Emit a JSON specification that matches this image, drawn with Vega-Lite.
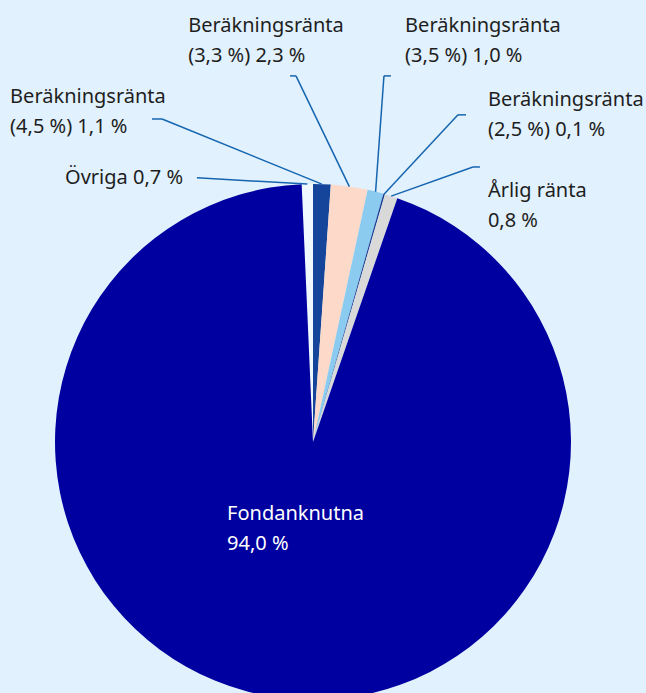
{
  "$schema": "https://vega.github.io/schema/vega-lite/v6.json",
  "autosize": {"type": "none"},
  "width": 516,
  "height": 500,
  "padding": {"left": 55, "right": 75, "top": 192, "bottom": 1},
  "background": "#e1f1fd",
  "config": {"view": {"stroke": null}, "text": {"font": "Noto Sans"}},
  "data": {
    "values": [
      {"ordning": 0, "kategori": "Övriga", "rad1": "Övriga 0,7 %", "rad2": "", "andel": 0.7},
      {"ordning": 1, "kategori": "Beräkningsränta (4,5 %)", "rad1": "Beräkningsränta", "rad2": "(4,5 %) 1,1 %", "andel": 1.1},
      {"ordning": 2, "kategori": "Beräkningsränta (3,3 %)", "rad1": "Beräkningsränta", "rad2": "(3,3 %) 2,3 %", "andel": 2.3},
      {"ordning": 3, "kategori": "Beräkningsränta (3,5 %)", "rad1": "Beräkningsränta", "rad2": "(3,5 %) 1,0 %", "andel": 1.0},
      {"ordning": 4, "kategori": "Beräkningsränta (2,5 %)", "rad1": "Beräkningsränta", "rad2": "(2,5 %) 0,1 %", "andel": 0.1},
      {"ordning": 5, "kategori": "Årlig ränta", "rad1": "Årlig ränta", "rad2": "0,8 %", "andel": 0.8},
      {"ordning": 6, "kategori": "Fondanknutna", "rad1": "Fondanknutna", "rad2": "94,0 %", "andel": 94.0}
    ]
  },
  "layer": [
    {
      "mark": {"type": "arc", "radius": 258},
      "encoding": {
        "theta": {"field": "andel", "type": "quantitative", "stack": true, "scale": {"range": [-0.043982, 6.239203]}},
        "order": {"field": "ordning", "type": "quantitative"},
        "color": {
          "field": "kategori", "type": "nominal", "legend": null,
          "scale": {
            "domain": ["Övriga", "Beräkningsränta (4,5 %)", "Beräkningsränta (3,3 %)", "Beräkningsränta (3,5 %)", "Beräkningsränta (2,5 %)", "Årlig ränta", "Fondanknutna"],
            "range": ["#f0f8ff", "#14459a", "#fcd9c8", "#8ccbf0", "#1c3f94", "#d9d9d9", "#0000a0"]
          }
        }
      }
    },
    {
      "transform": [
        {"window": [{"op": "sum", "field": "andel", "as": "kum"}], "sort": [{"field": "ordning"}]},
        {"calculate": "((datum.kum - datum.andel / 2) / 100) * 2 * PI - 0.043982", "as": "mitt"},
        {"calculate": "sin(datum.mitt)", "as": "sx"},
        {"calculate": "cos(datum.mitt)", "as": "sy"},
        {"calculate": "[-0.450, -0.585, -0.066, 0.275, 0.562, 0.620, 0][datum.ordning]", "as": "ex"},
        {"calculate": "[1.024, 1.252, 1.419, 1.419, 1.268, 1.066, 0][datum.ordning]", "as": "ey"},
        {"calculate": "[-0.450, -0.624, -0.089, 0.302, 0.593, 0.647, 0][datum.ordning]", "as": "tx"},
        {"calculate": "[-0.961, -1.174, -0.484, 0.357, 0.678, 0.678, -0.333][datum.ordning]", "as": "lx"},
        {"calculate": "[1.000, 1.314, 1.589, 1.589, 1.303, 0.950, -0.302][datum.ordning]", "as": "ly"},
        {"calculate": "datum.rad2 ? [datum.rad1, datum.rad2] : datum.rad1", "as": "etikett"}
      ],
      "encoding": {
        "x": {"field": "lx", "type": "quantitative", "axis": null, "scale": {"domain": [-1, 1], "nice": false, "zero": false}},
        "y": {"field": "ly", "type": "quantitative", "axis": null, "scale": {"domain": [-0.96899, 0.96899], "nice": false, "zero": false}}
      },
      "layer": [
        {
          "transform": [{"filter": "datum.ordning < 6"}],
          "mark": {"type": "rule", "color": "#1565b0", "strokeWidth": 1.5},
          "encoding": {
            "x": {"field": "sx", "type": "quantitative"},
            "y": {"field": "sy", "type": "quantitative"},
            "x2": {"field": "ex"},
            "y2": {"field": "ey"}
          }
        },
        {
          "transform": [{"filter": "datum.ordning < 6"}],
          "mark": {"type": "rule", "color": "#1565b0", "strokeWidth": 1.5},
          "encoding": {
            "x": {"field": "ex", "type": "quantitative"},
            "y": {"field": "ey", "type": "quantitative"},
            "x2": {"field": "tx"},
            "y2": {"field": "ey"}
          }
        },
        {
          "mark": {"type": "text", "align": "left", "baseline": "alphabetic", "fontSize": 20, "lineHeight": 30},
          "encoding": {
            "text": {"field": "etikett"},
            "color": {"condition": {"test": "datum.ordning == 6", "value": "#ffffff"}, "value": "#1e1e1e"}
          }
        }
      ]
    }
  ]
}
